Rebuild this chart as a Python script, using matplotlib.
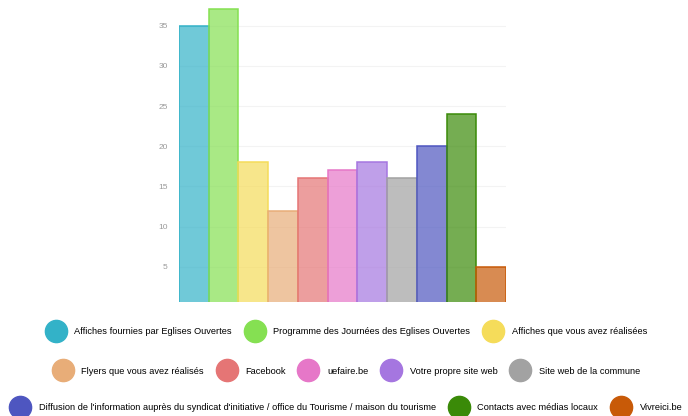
import matplotlib
matplotlib.use("Agg")
import matplotlib.pyplot as plt
from matplotlib.lines import Line2D
from matplotlib import font_manager

categories = [
    "Affiches fournies par Eglises Ouvertes",
    "Programme des Journées des Eglises Ouvertes",
    "Affiches que vous avez réalisées",
    "Flyers que vous avez réalisés",
    "Facebook",
    "uefaire.be",
    "Votre propre site web",
    "Site web de la commune",
    "Diffusion de l'information auprès du syndicat d'initiative / office du Tourisme / maison du tourisme",
    "Contacts avec médias locaux",
    "Vivreici.be",
]
values = [35, 37, 18, 12, 16, 17, 18, 16, 20, 24, 5]
colors = ["#33b2c8", "#85e052", "#f5dc5a", "#e8ad78", "#e57575", "#e677c8",
          "#a576e0", "#a2a2a2", "#4e56c0", "#3a8a08", "#c85a08"]
yticks = [5, 10, 15, 20, 25, 30, 35]
legend_rows = [3, 5, 3]

names = {f.name for f in font_manager.fontManager.ttflist}
legend_font = "Liberation Sans Narrow" if "Liberation Sans Narrow" in names else "Liberation Sans"

W, H = 688, 416
fig = plt.figure(figsize=(W / 100, H / 100), dpi=100)
ax = fig.add_axes([179 / W, 1 - 302 / H, (506 - 179) / W, 302 / H])

x = list(range(len(values)))
ax.bar(x, values, width=1.0, color=colors, alpha=0.7, edgecolor="none", zorder=2)
ax.bar(x, values, width=1.0, facecolor="none", edgecolor=colors, linewidth=1.1, zorder=3)

ax.set_xlim(-0.5, len(values) - 0.5)
ax.set_ylim(0.65, 38.17)
ax.set_yticks(yticks)
ax.set_yticklabels([str(v) for v in yticks], fontsize=6, color="#9a9a9a",
                   family="Liberation Sans")
ax.tick_params(axis="y", length=0, pad=8)
ax.set_xticks([])
for s in ax.spines.values():
    s.set_visible(False)
ax.grid(axis="y", color="#f3f3f3", linewidth=0.8, zorder=0)
ax.set_axisbelow(True)

row_y = [331.7, 371.0, 407.7]
start = 0
for n, yy in zip(legend_rows, row_y):
    idx = list(range(start, start + n))
    start += n
    handles = [Line2D([], [], linestyle="none", marker="o", markersize=16,
                      markerfacecolor=colors[i], markeredgecolor=colors[i])
               for i in idx]
    labels = [categories[i] for i in idx]
    fig.legend(handles, labels, loc="center", bbox_to_anchor=(346 / W, 1 - yy / H),
               ncol=n, frameon=False, handlelength=2.3, handletextpad=0.85,
               columnspacing=1.3, borderpad=0, borderaxespad=0,
               prop={"family": legend_font, "size": 6.7})

fig.savefig("out.png", dpi=100)
